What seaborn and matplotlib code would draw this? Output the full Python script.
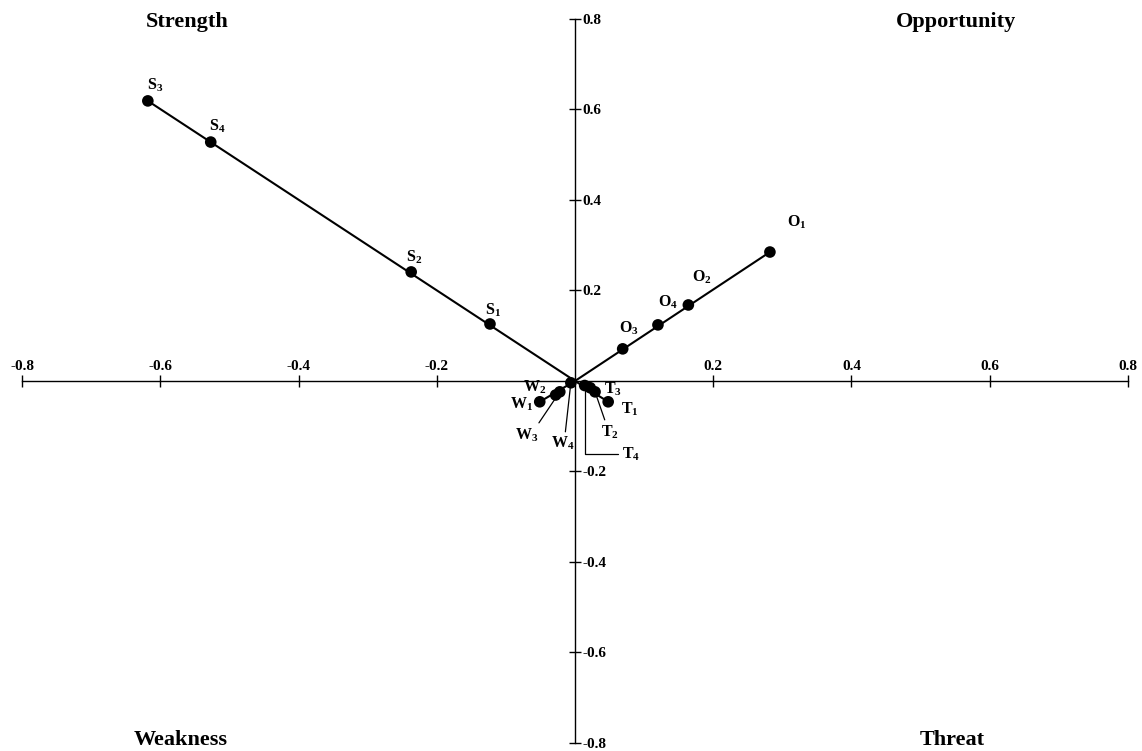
import numpy as np
import pandas as pd
import matplotlib
matplotlib.use("Agg")
import matplotlib.pyplot as plt
import seaborn as sns

# factor loadings
labels = ["S1", "S2", "S3", "S4",
          "O1", "O2", "O3", "O4",
          "W1", "W2", "W3", "W4",
          "T1", "T2", "T3", "T4"]
groups = ["S"] * 4 + ["O"] * 4 + ["W"] * 4 + ["T"] * 4
x_vals = [-0.123, -0.237, -0.618, -0.527,
          0.282, 0.164, 0.069, 0.120,
          -0.051, -0.028, -0.022, -0.006,
          0.048, 0.029, 0.022, 0.014]
y_vals = [0.126, 0.241, 0.619, 0.528,
          0.285, 0.168, 0.071, 0.124,
          -0.046, -0.031, -0.024, -0.004,
          -0.046, -0.024, -0.015, -0.010]
ticks = [-0.8, -0.6, -0.4, -0.2, 0.2, 0.4, 0.6, 0.8]
quadrants = ["Strength", "Opportunity", "Weakness", "Threat"]

df = pd.DataFrame({"label": labels, "group": groups, "x": x_vals, "y": y_vals})

sns.set_style("white")
plt.rcParams["font.family"] = ["Liberation Serif", "DejaVu Serif"]
plt.rcParams["font.weight"] = "bold"
plt.rcParams["text.color"] = "black"
plt.rcParams["xtick.color"] = "black"
plt.rcParams["ytick.color"] = "black"
plt.rcParams["mathtext.fontset"] = "custom"
plt.rcParams["mathtext.rm"] = "Liberation Serif:bold"
plt.rcParams["mathtext.bf"] = "Liberation Serif:bold"
plt.rcParams["mathtext.it"] = "Liberation Serif:bold"

fig = plt.figure(figsize=(11.42, 7.51), dpi=100)
ax = fig.add_axes([0.0193, 0.0107, 0.9684, 0.964])

# line from origin to the farthest point in each group
for g, sub in df.groupby("group"):
    far = sub.loc[(sub.x ** 2 + sub.y ** 2).idxmax()]
    ax.plot([0, far.x], [0, far.y], color="black", lw=1.5, zorder=2)

sns.scatterplot(data=df, x="x", y="y", color="black", s=70,
                edgecolor="none", ax=ax, zorder=3, legend=False)

# label offsets in pixels (dx, dy, leader style, leader start on text)
offsets = {
    "S3": (7, 16, None, None), "S4": (6, 16, None, None),
    "S2": (3, 15, None, None), "S1": (3, 14, None, None),
    "O1": (27, 30, None, None), "O2": (14, 28, None, None),
    "O4": (10, 23, None, None), "O3": (6, 21, None, None),
    "W1": (-18, -3, None, None), "W2": (-21, 8, None, None),
    "W3": (-33, -43, "line", (0.95, 1.05)), "W4": (-8, -61, "line", (0.6, 1.1)),
    "T4": (46, -69, "angle", (-0.05, 0.55)), "T3": (23, -2, None, None),
    "T2": (15, -40, "line", (0.25, 1.05)), "T1": (22, -8, None, None),
}
for _, r in df.iterrows():
    dx, dy, lead, rel = offsets[r.label]
    txt = r"$\mathbf{" + r.label[0] + "_" + r.label[1] + "}$"
    props = None
    if lead == "line":
        props = dict(arrowstyle="-", color="black", lw=0.9, shrinkA=0, shrinkB=4,
                     relpos=rel)
    elif lead == "angle":
        props = dict(arrowstyle="-", color="black", lw=0.9, shrinkA=0, shrinkB=3,
                     relpos=rel, connectionstyle="angle,angleA=0,angleB=-90,rad=0")
    ax.annotate(txt, xy=(r.x, r.y), xytext=(dx, dy), textcoords="offset pixels",
                ha="center", va="center", fontsize=11.5, arrowprops=props)

ax.set_xlim(-0.8, 0.8)
ax.set_ylim(-0.8, 0.8)
ax.spines["left"].set_visible(False)
ax.spines["bottom"].set_visible(False)
ax.spines["top"].set_position(("data", 0))
ax.spines["right"].set_position(("data", 0))
for s in ["top", "right"]:
    ax.spines[s].set_color("black")
    ax.spines[s].set_linewidth(1.0)
ax.xaxis.tick_top()
ax.yaxis.tick_right()
ax.set_xticks(ticks)
ax.set_yticks(ticks)
ax.set_xticklabels([f"{t:.1f}" for t in ticks])
ax.set_yticklabels([f"{t:.1f}" for t in ticks])
ax.tick_params(axis="both", direction="inout", length=9, width=1.0,
               color="black", labelcolor="black", labelsize=11, pad=1)
for lab in ax.get_xticklabels() + ax.get_yticklabels():
    lab.set_fontweight("bold")
ax.set_xlabel("")
ax.set_ylabel("")

# quadrant titles, centres in pixels
qpos = [(187, 22), (956, 22), (181, 740), (952, 740)]
for name, (px, py) in zip(quadrants, qpos):
    fig.text(px / 1142, 1 - py / 751, name, ha="center", va="center",
             fontsize=16, fontweight="bold", color="black")

fig.savefig("out.png", dpi=100)
